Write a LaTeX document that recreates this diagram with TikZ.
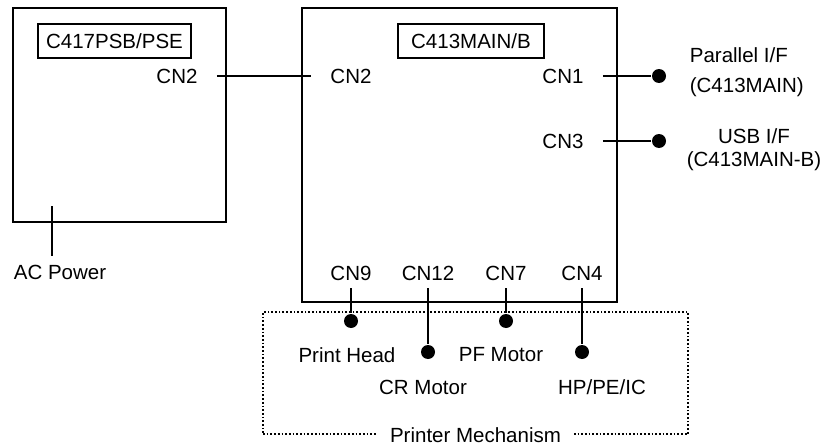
\documentclass[tikz,border=0pt]{standalone}
\usepackage{fontspec}
\setmainfont{Liberation Sans}
\usetikzlibrary{positioning}
\begin{document}
\begin{tikzpicture}[x=1pt, y=-1pt, line width=1.7pt,
    board/.style={draw, inner sep=0pt},
    tag/.style={draw, minimum height=34pt, inner sep=0pt},
    dot/.style={circle, fill, inner sep=0pt, minimum size=14pt},
    every node/.style={inner sep=2pt, font=\fontsize{20.5}{23}\selectfont}]
    \useasboundingbox (0,0) rectangle (823,447);
    % boards
    \node[board, minimum width=213pt, minimum height=214pt] (psb) at (119.5,115) {};
    \node[board, minimum width=315pt, minimum height=294pt] (main) at (459.5,155) {};
    \node[tag, minimum width=153pt] (psbtag) at (114.5,41) {C417PSB/PSE};
    \node[tag, minimum width=146pt] (maintag) at (471,41) {C413MAIN/B};
    \node[draw, dotted, inner sep=0pt, minimum width=425pt, minimum height=122pt] (mech) at (475.5,373) {};
    \node[fill=white, inner xsep=13pt] (mechlbl) at (mech.south) {Printer Mechanism};
    % connectors
    \node (cn2a) at (177,76) {CN2};
    \node (cn2b) at (351,76) {CN2};
    \node (cn1) at (563,76) {CN1};
    \node (cn3) at (563,141) {CN3};
    \foreach \n/\x in {9/351, 12/428, 7/506, 4/582}
        \node (cn\n) at (\x,273) {CN\n};
    \node[dot] (par) at (659,76) {};
    \node[dot] (usb) at (659,141) {};
    \node[dot] (head) at (351,321) {};
    \node[dot] (cr) at (428,352) {};
    \node[dot] (pf) at (506,321) {};
    \node[dot] (hp) at (582,352) {};
    % labels
    \node[align=left, anchor=west] (parlbl) at (687,72) {Parallel I/F\\[7pt](C413MAIN)};
    \node[align=center] (usblbl) at (754,150) {USB I/F\\(C413MAIN-B)};
    \node[anchor=west] (aclbl) at (11,272) {AC Power};
    \node (headlbl) at (347,355) {Print Head};
    \node (crlbl) at (423,387) {CR Motor};
    \node (pflbl) at (501,355) {PF Motor};
    \node (hplbl) at (602,387) {HP/PE/IC};
    % wires
    \coordinate (acin) at (52,206);
    \coordinate (acend) at (52,256);
    \draw (acin) -- (acend);
    \draw ([xshift=16.5pt]cn2a.east) -- ([xshift=-16.5pt]cn2b.west);
    \draw ([xshift=16.5pt]cn1.east) -- (par);
    \draw ([xshift=16.5pt]cn3.east) -- (usb);
    \draw ([yshift=-5pt]cn9.south) -- (head);
    \draw ([yshift=-5pt]cn12.south) -- (cr);
    \draw ([yshift=-5pt]cn7.south) -- (pf);
    \draw ([yshift=-5pt]cn4.south) -- (hp);
\end{tikzpicture}
\end{document}
